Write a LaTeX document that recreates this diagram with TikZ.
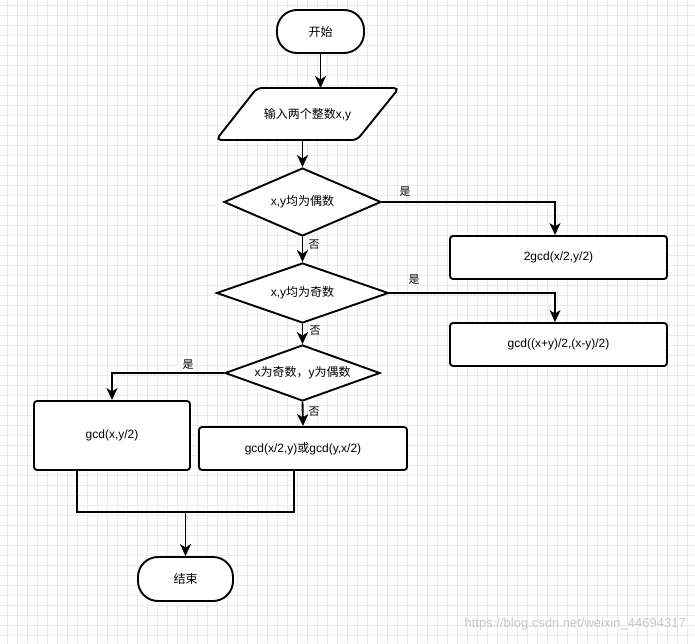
\documentclass[tikz,border=0pt]{standalone}
\usepackage{fontspec}
\setmainfont{Liberation Sans}
\newfontfamily\cjk{Noto Sans CJK SC}
\usetikzlibrary{shapes.geometric,arrows.meta,calc}
\tikzset{
  shp/.style={draw=black, line width=1.9pt, fill=white, font=\fontsize{12pt}{14pt}\selectfont, align=center, inner sep=0pt},
  term/.style={shp, rectangle, rounded corners=20pt},
  boxx/.style={shp, rectangle, rounded corners=3pt},
  dia/.style={shp, diamond},
  conn/.style={draw=black, line width=1.9pt},
  arr/.style={conn, -{Stealth[length=12pt,width=11pt,inset=3.5pt]}},
  lbl/.style={font=\fontsize{11pt}{13pt}\selectfont\cjk, inner sep=0pt},
  gridline/.style={draw=black!8, line width=0.5pt}
}
\begin{document}
\begin{tikzpicture}[x=1pt,y=-1pt]
\useasboundingbox (0,0) rectangle (695,644);
\fill[white] (0,0) rectangle (695,644);
\foreach \gx in {7,17,...,695} { \draw[gridline] (\gx,0) -- (\gx,644); }
\foreach \gy in {5,15,...,644} { \draw[gridline] (0,\gy) -- (695,\gy); }

% start
\node[term, minimum width=87pt, minimum height=43pt] (start) at (320.5,31.5) {\cjk 开始};
% input parallelogram
\draw[shp, rounded corners=5pt] (257,88) -- (399,88) -- (357,140) -- (216,140) -- cycle;
\node[font=\fontsize{12pt}{14pt}\selectfont, inner sep=0pt] (in) at (307.5,114.5) {{\cjk 输入两个整数}x,y};
\coordinate (inTop) at (320.5,88);
\coordinate (inBot) at (302.5,140);

% decisions
\node[dia, aspect=2.31, minimum width=157pt, minimum height=68pt] (d1) at (302.5,202) {x,y{\cjk 均为偶数}};
\node[dia, aspect=2.87, minimum width=172pt, minimum height=60pt] (d2) at (302.5,293) {x,y{\cjk 均为奇数}};
\node[dia, aspect=2.77, minimum width=155pt, minimum height=56pt] (d3) at (302.5,373) {x{\cjk 为奇数，}y{\cjk 为偶数}};

% boxes
\node[boxx, minimum width=217pt, minimum height=43pt] (b1) at (558.5,257.5) {2gcd(x/2,y/2)};
\node[boxx, minimum width=217pt, minimum height=43pt] (b2) at (558.5,344.5) {gcd((x+y)/2,(x-y)/2)};
\node[boxx, minimum width=156pt, minimum height=69pt] (b3) at (112,435.5) {gcd(x,y/2)};
\node[boxx, minimum width=208pt, minimum height=43pt] (b4) at (303,448.5) {gcd(x/2,y){\cjk 或}gcd(y,x/2)};

% end
\node[term, minimum width=95pt, minimum height=44pt] (stop) at (185.5,579) {\cjk 结束};
\coordinate (j) at (185.5,512);

% connectors
\draw[arr] (start) -- (inTop);
\draw[arr] (inBot) -- (d1.north);
\draw[arr] (d1.east) -| ([xshift=-3.5pt]b1.north);
\draw[arr] (d1.south) -- (d2.north);
\draw[arr] (d2.east) -| ([xshift=-3.5pt]b2.north);
\draw[arr] (d2.south) -- (d3.north);
\draw[arr] (d3.west) -| (b3.north);
\draw[arr] (d3.south) -- (b4.north);
\draw[conn] ([xshift=-35pt]b3.south) |- (j) -| ([xshift=-9pt]b4.south);
\draw[arr] (j) -- (stop.north);

% labels
\node[lbl] (l1) at (405,192) {是};
\node[lbl] (l2) at (314,245) {否};
\node[lbl] (l3) at (414,280) {是};
\node[lbl] (l4) at (315,331) {否};
\node[lbl] (l5) at (188,365) {是};
\node[lbl] (l6) at (314,412) {否};

% watermark
\node[anchor=east, inner sep=0pt, text=black!22, font=\fontsize{13pt}{15pt}\selectfont] (wm) at (686,624) {https://blog.csdn.net/weixin\_44694317};
\end{tikzpicture}
\end{document}
